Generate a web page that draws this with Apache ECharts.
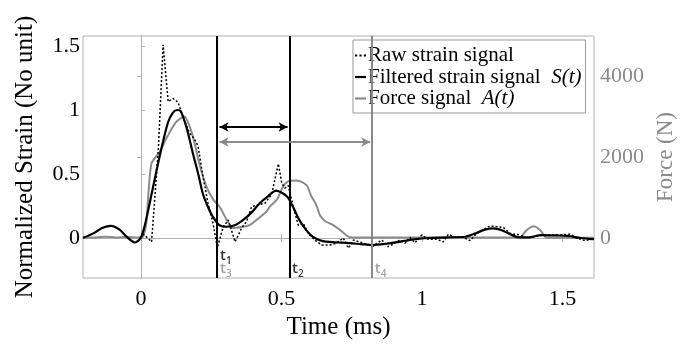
<!DOCTYPE html>
<html>
<head>
<meta charset="utf-8">
<script src="https://cdn.jsdelivr.net/npm/echarts@6/dist/echarts.min.js"></script>
<style>html,body{margin:0;padding:0;background:#fff}#c{width:686px;height:346px}</style>
</head>
<body>
<div id="c"></div>
<script>
// ---- data ----
const timeTicks = [0, 0.5, 1, 1.5];
const strainTicks = [0, 0.5, 1, 1.5];
const forceTicks = [0, 2000, 4000];

// Raw strain signal [time ms, normalized strain]
const rawStrain = [
  [0.0,0.0],[0.007,0.03],[0.025,0.0],[0.038,-0.03],[0.043,-0.03],[0.062,0.69],[0.079,1.51],
  [0.097,1.065],[0.115,1.09],[0.132,1.06],[0.149,0.95],[0.173,0.82],[0.191,0.77],[0.203,0.72],
  [0.221,0.48],[0.238,0.28],[0.256,0.12],[0.272,-0.075],[0.293,0.088],[0.311,0.14],[0.335,-0.03],
  [0.358,0.076],[0.376,0.13],[0.394,0.245],[0.417,0.26],[0.441,0.27],[0.465,0.34],[0.489,0.58],
  [0.501,0.43],[0.512,0.39],[0.524,0.41],[0.542,0.245],[0.56,0.10],[0.578,0.115],[0.595,0.037],
  [0.619,-0.016],[0.643,-0.055],[0.673,-0.055],[0.696,-0.04],[0.72,0.0],[0.738,-0.08],[0.756,-0.016],
  [0.791,-0.04],[0.827,-0.062],[0.857,-0.016],[0.88,-0.068],[0.892,-0.055],[0.91,-0.03],[0.922,-0.016],
  [0.94,-0.04],[0.957,0.005],[0.975,-0.037],[0.999,0.023],[1.022,-0.01],[1.052,-0.01],[1.076,-0.03],
  [1.094,0.03],[1.117,0.005],[1.141,0.01],[1.171,-0.02],[1.195,0.036],[1.242,0.094],[1.266,0.088],
  [1.289,0.083],[1.313,0.036],[1.349,0.023],[1.373,0.0],[1.396,0.01],[1.432,0.023],[1.479,0.023],
  [1.527,0.03],[1.55,0.0],[1.58,-0.02],[1.604,-0.01]
];

// Filtered strain signal S(t)
const filteredStrain = [
  [-0.206,0.0],[-0.166,0.04],[-0.136,0.08],[-0.106,0.094],[-0.076,0.065],[-0.051,0.01],[-0.021,-0.035],
  [-0.001,0.0],[0.014,0.1],[0.032,0.28],[0.067,0.64],[0.096,0.9],[0.114,0.98],[0.129,1.0],[0.142,0.99],
  [0.164,0.85],[0.184,0.67],[0.204,0.5],[0.22,0.35],[0.239,0.24],[0.255,0.17],[0.279,0.10],[0.304,0.088],
  [0.334,0.1],[0.363,0.14],[0.394,0.2],[0.422,0.27],[0.454,0.33],[0.481,0.37],[0.504,0.35],[0.522,0.32],
  [0.544,0.23],[0.564,0.14],[0.589,0.06],[0.611,0.01],[0.634,-0.015],[0.658,-0.029],[0.704,-0.035],
  [0.741,-0.04],[0.784,-0.048],[0.824,-0.055],[0.874,-0.045],[0.918,-0.03],[0.954,-0.016],[1.024,0.0],
  [1.094,0.005],[1.154,0.01],[1.19,0.036],[1.224,0.065],[1.254,0.075],[1.284,0.06],[1.308,0.036],
  [1.344,0.005],[1.379,0.005],[1.424,0.023],[1.474,0.02],[1.521,0.016],[1.564,0.0],[1.612,-0.01]
];

// Force signal A(t) [time ms, force N]
const forceSignal = [
  [-0.206,20],[-0.17,10],[-0.13,30],[-0.09,15],[-0.05,25],[-0.02,15],[0.004,10],[0.019,380],[0.037,1830],
  [0.066,2120],[0.096,2530],[0.125,2860],[0.154,3000],[0.184,2530],[0.209,1800],[0.232,1290],
  [0.256,960],[0.281,760],[0.305,450],[0.328,240],[0.364,280],[0.388,320],[0.412,450],[0.447,650],
  [0.459,780],[0.483,940],[0.506,1270],[0.524,1400],[0.554,1420],[0.59,1300],[0.605,1050],[0.625,800],
  [0.637,560],[0.655,420],[0.684,320],[0.708,200],[0.744,20],[0.8,10],[1.0,15],[1.2,10],[1.349,10],
  [1.37,180],[1.396,290],[1.42,200],[1.444,5],[1.5,10],[1.612,5]
];

// Time markers t1, t2, t3, t4 (t3 coincides with t1)
const markerDigits = ['1', '2', '3', '4'];
const markerTimes = [0.2715, 0.528, 0.2715, 0.822];
const blackArrowLevel = 0.867;
const grayArrowLevel = 0.75;

// ---- chart ----
const BLACK = '#000';
const GRAY = '#8a8a8a';
const FRAME = '#b0b0b0';
const SERIF = '"Liberation Serif","Times New Roman",serif';
const SANS = '"Open Sans","Noto Sans",sans-serif';

const chart = echarts.init(document.getElementById('c'), null, {renderer: 'canvas'});

function tLabel(i, color) {
  return {
    formatter: '{t|t}{s|' + markerDigits[i] + '}',
    rich: {
      t: {fontFamily: SANS, fontSize: 15, fontWeight: 600, color: color, lineHeight: 18, verticalAlign: 'bottom'},
      s: {fontFamily: SANS, fontSize: 10, fontWeight: 600, color: color, lineHeight: 18, verticalAlign: 'bottom', padding: [0, 0, -3, 0]}
    }
  };
}

const labelPts = [
  {value: [markerTimes[0] + 0.01, -0.125], label: tLabel(0, BLACK)},
  {value: [markerTimes[2] + 0.01, -0.228], label: tLabel(2, GRAY)},
  {value: [markerTimes[1] + 0.01, -0.228], label: tLabel(1, BLACK)},
  {value: [markerTimes[3] + 0.01, -0.228], label: tLabel(3, GRAY)}
];

const dotIcon = 'path://M0,0h2v2h-2z M4,0h2v2h-2z M8,0h2v2h-2z';
const lineIcon = 'path://M0,0h10v2h-10z';

chart.setOption({
  animation: false,
  backgroundColor: '#fff',
  grid: {left: 83, right: 92, top: 36, bottom: 68, show: true, borderColor: FRAME, borderWidth: 1, backgroundColor: 'transparent'},
  legend: {
    data: [
      {name: 'Raw strain signal', icon: dotIcon},
      {name: 'Filtered strain signal', icon: lineIcon},
      {name: 'Force signal', icon: lineIcon}
    ],
    orient: 'vertical', left: 353, top: 40,
    padding: [5, 4, 4, 2], itemGap: 0.5, itemWidth: 11, itemHeight: 3,
    borderColor: '#999', borderWidth: 1, backgroundColor: '#fff',
    textStyle: {fontFamily: SERIF, fontSize: 21, color: BLACK, lineHeight: 21, padding: [0, 0, 0, -3],
      rich: {i: {fontFamily: SERIF, fontSize: 21, fontStyle: 'italic', color: BLACK, lineHeight: 21}}},
    formatter: function (name) {
      if (name === 'Filtered strain signal') return 'Filtered strain signal  {i|S(t)}';
      if (name === 'Force signal') return 'Force signal  {i|A(t)}';
      return name;
    }
  },
  xAxis: [{
    type: 'value', min: -0.206, max: 1.612,
    name: 'Time (ms)', nameLocation: 'middle', nameGap: 34,
    nameTextStyle: {fontFamily: SERIF, fontSize: 25, color: BLACK},
    axisLine: {show: true, lineStyle: {color: FRAME}},
    axisTick: {show: true, inside: true, length: 4, lineStyle: {color: FRAME}, customValues: timeTicks},
    axisLabel: {fontFamily: SERIF, fontSize: 22, color: BLACK, margin: 10, customValues: timeTicks},
    splitLine: {show: false}
  }, {
    type: 'value', min: -0.206, max: 1.612, position: 'top',
    axisLine: {show: true, lineStyle: {color: FRAME}},
    axisTick: {show: true, inside: true, length: 4, lineStyle: {color: FRAME}, customValues: timeTicks},
    axisLabel: {show: false},
    splitLine: {show: false}
  }],
  yAxis: [{
    type: 'value', min: -0.3125, max: 1.578,
    name: 'Normalized Strain (No unit)', nameLocation: 'middle', nameGap: 45,
    nameTextStyle: {fontFamily: SERIF, fontSize: 25, color: BLACK},
    axisLine: {show: true, lineStyle: {color: FRAME}},
    axisTick: {show: true, inside: true, length: 4, lineStyle: {color: FRAME}, customValues: strainTicks},
    axisLabel: {fontFamily: SERIF, fontSize: 22, color: BLACK, margin: 3, customValues: strainTicks},
    splitLine: {show: false}
  }, {
    type: 'value', min: -988, max: 4988, position: 'right',
    name: 'Force (N)', nameLocation: 'middle', nameGap: 57,
    nameTextStyle: {fontFamily: SERIF, fontSize: 23, color: GRAY},
    axisLine: {show: true, lineStyle: {color: FRAME}},
    axisTick: {show: true, inside: true, length: 4, lineStyle: {color: FRAME}, customValues: forceTicks},
    axisLabel: {fontFamily: SERIF, fontSize: 22, color: GRAY, margin: 6, customValues: forceTicks,
      formatter: function (v) { return String(v); }},
    splitLine: {show: false}
  }],
  series: [
    {
      name: 'Force signal', type: 'line', yAxisIndex: 1, data: forceSignal,
      symbol: 'none', smooth: 0.25, lineStyle: {color: GRAY, width: 2}, itemStyle: {color: GRAY}, z: 2
    },
    {
      name: 'Raw strain signal', type: 'line', data: rawStrain,
      symbol: 'none', lineStyle: {color: BLACK, width: 1.5, type: [2, 2]}, itemStyle: {color: BLACK}, z: 3
    },
    {
      name: 'Filtered strain signal', type: 'line', data: filteredStrain,
      symbol: 'none', smooth: 0.3, lineStyle: {color: BLACK, width: 2.2}, itemStyle: {color: BLACK}, z: 4,
      markLine: {
        silent: true, symbol: 'none', animation: false,
        label: {show: false},
        data: [
          {xAxis: markerTimes[0], lineStyle: {color: BLACK, width: 2, type: 'solid'}},
          {xAxis: markerTimes[1], lineStyle: {color: BLACK, width: 2, type: 'solid'}},
          {xAxis: markerTimes[3], lineStyle: {color: GRAY, width: 2, type: 'solid'}},
          [
            {coord: [markerTimes[0] + 0.008, blackArrowLevel], symbol: 'arrow', symbolSize: [7, 9], lineStyle: {color: BLACK, width: 2, type: 'solid'}},
            {coord: [markerTimes[1] - 0.006, blackArrowLevel], symbol: 'arrow', symbolSize: [7, 9]}
          ],
          [
            {coord: [markerTimes[0] + 0.008, grayArrowLevel], symbol: 'arrow', symbolSize: [7, 9], lineStyle: {color: GRAY, width: 2, type: 'solid'}},
            {coord: [markerTimes[3] - 0.006, grayArrowLevel], symbol: 'arrow', symbolSize: [7, 9]}
          ]
        ]
      }
    },
    {
      name: 'markers', type: 'scatter', data: labelPts, symbolSize: 0, silent: true, z: 5,
      label: {show: true, position: 'right', distance: 0}
    }
  ]
});
</script>
</body>
</html>
